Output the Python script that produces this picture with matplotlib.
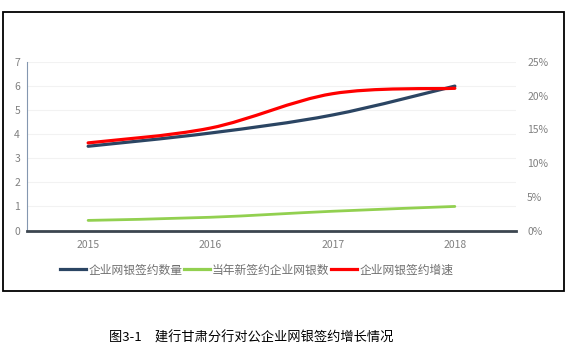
import matplotlib.pyplot as plt
from matplotlib.path import Path
from matplotlib.patches import PathPatch, Rectangle
from matplotlib.lines import Line2D

plt.rcParams['font.family'] = ['Noto Sans CJK SC', 'DejaVu Sans']

years = ['2015', '2016', '2017', '2018']
signed_total = [3.5, 4.05, 4.8, 6.0]       # 企业网银签约数量
signed_new = [0.42, 0.55, 0.8, 1.0]        # 当年新签约企业网银数
growth_pct = [13.0, 15.2, 20.3, 21.1]      # 企业网银签约增速 (%)

labels = ['企业网银签约数量', '当年新签约企业网银数', '企业网银签约增速']
colors = ['#2b4563', '#92d050', '#ff0000']
caption = '图3-1　建行甘肃分行对公企业网银签约增长情况'


def smooth_path(ys):
    # Excel-style smoothed line: cubic Bezier through the points
    xs = list(range(len(ys)))
    pts = list(zip(xs, ys))
    verts = [pts[0]]
    codes = [Path.MOVETO]
    for i in range(len(pts) - 1):
        p0 = pts[max(i - 1, 0)]
        p1 = pts[i]
        p2 = pts[i + 1]
        p3 = pts[min(i + 2, len(pts) - 1)]
        c1 = (p1[0] + (p2[0] - p0[0]) / 6, p1[1] + (p2[1] - p0[1]) / 6)
        c2 = (p2[0] - (p3[0] - p1[0]) / 6, p2[1] - (p3[1] - p1[1]) / 6)
        verts += [c1, c2, p2]
        codes += [Path.CURVE4] * 3
    return Path(verts, codes)


fig = plt.figure(figsize=(5.73, 3.56), dpi=100)
ax = fig.add_axes([0.0471, 0.3525, 0.8534, 0.4733])
ax2 = ax.twinx()

ax.set_xlim(-0.5, 3.5)
ax.set_ylim(0, 7)
ax2.set_ylim(0, 25)

for a in (ax, ax2):
    for s in a.spines.values():
        s.set_visible(False)

ax.set_yticks(range(0, 8))
ax.grid(axis='y', color='#f2f2f2', lw=0.8)
ax.set_axisbelow(True)
ax.spines['left'].set_visible(True)
ax.spines['left'].set_color('#8497b0')
ax.spines['left'].set_linewidth(0.8)
ax.spines['bottom'].set_visible(True)
ax.spines['bottom'].set_color('#3c4650')
ax.spines['bottom'].set_linewidth(2)

ax.set_xticks(range(len(years)))
ax.set_xticklabels(years)
ax.tick_params(axis='both', length=0, labelsize=7.5, labelcolor='#808080')
ax.tick_params(axis='x', pad=7)
ax.tick_params(axis='y', pad=5)

ax2.set_yticks(range(0, 30, 5))
ax2.set_yticklabels([f'{v}%' for v in range(0, 30, 5)])
ax2.tick_params(axis='y', length=0, labelsize=7.5, labelcolor='#808080', pad=8)

ax.add_patch(PathPatch(smooth_path(signed_total), fill=False, ec=colors[0], lw=2.3,
                       capstyle='round', zorder=3))
ax.add_patch(PathPatch(smooth_path(signed_new), fill=False, ec=colors[1], lw=2.0,
                       capstyle='round', zorder=3))
ax2.add_patch(PathPatch(smooth_path(growth_pct), fill=False, ec=colors[2], lw=2.3,
                        capstyle='round', zorder=3))

handles = [Line2D([], [], color=c, lw=2.3) for c in colors]
leg = fig.legend(handles, labels, loc='center', bbox_to_anchor=(0.448, 0.2416),
                 ncol=3, frameon=False, fontsize=8.5, handlelength=2.2,
                 handletextpad=0.2, columnspacing=0.1)
for t in leg.get_texts():
    t.set_color('#707070')

# chart frame
fig.patches.append(Rectangle((3 / 573, 1 - 291 / 356), 561 / 573, 279 / 356,
                             transform=fig.transFigure, fill=False,
                             ec='black', lw=1.3))

fig.text(0.438, 1 - 338 / 356, caption, ha='center', va='center',
         fontsize=9.5, color='black')

fig.savefig('out.png', dpi=100)
